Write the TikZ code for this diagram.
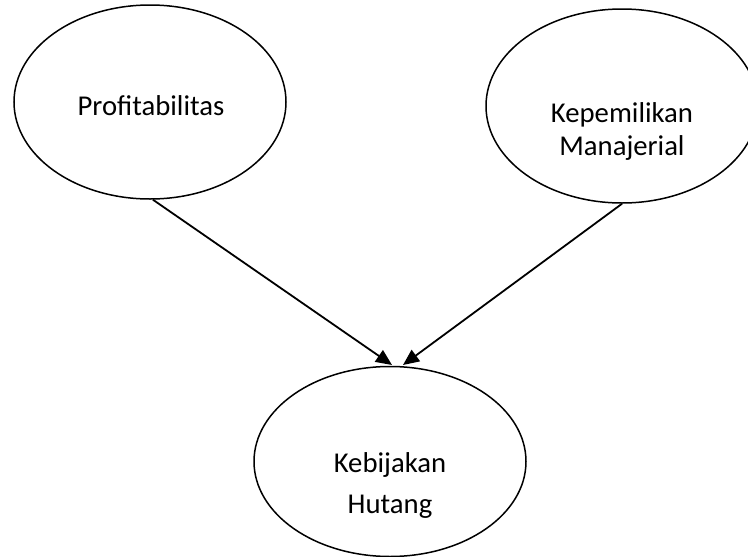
\documentclass[tikz,border=0pt]{standalone}
\usepackage{fontspec}
\setmainfont{Carlito}
\usetikzlibrary{shapes.geometric,arrows.meta}
\tikzset{
  oval/.style={draw=black, line width=1.5pt, ellipse, inner sep=0pt, minimum width=272pt, minimum height=194pt},
  lbl/.style={anchor=base, align=center, inner sep=0pt, text=black},
  conn/.style={draw=black, line width=1.8pt, -{Triangle[length=16pt,width=14pt]}}
}
\begin{document}
\begin{tikzpicture}[x=1pt,y=-1pt]
\fill[white] (0,0) rectangle (748,557);
\useasboundingbox (0,0) rectangle (748,557);
\begin{scope}
\clip (0,0) rectangle (748,557);
\node[oval] (p) at (150,102) {};
\node[oval] (m) at (622,106) {};
\node[oval, minimum height=190pt] (k) at (390,461.5) {};
\end{scope}
\node[lbl, font=\fontsize{28.7}{34}\selectfont] (pt) at (151,115) {Profitabilitas};
\node[lbl, font=\fontsize{28.7}{33}\selectfont] (mt) at (622,155) {Kepemilikan\\Manajerial};
\node[lbl, font=\fontsize{28.7}{41}\selectfont] (kt) at (390,513) {Kebijakan\\Hutang};
\coordinate (t1) at (392,365);
\coordinate (t2) at (403,365);
\draw[conn] (p.south) ++(3,0) coordinate (s1) -- (t1);
\draw[conn] (m.south) -- (t2);
\end{tikzpicture}
\end{document}
